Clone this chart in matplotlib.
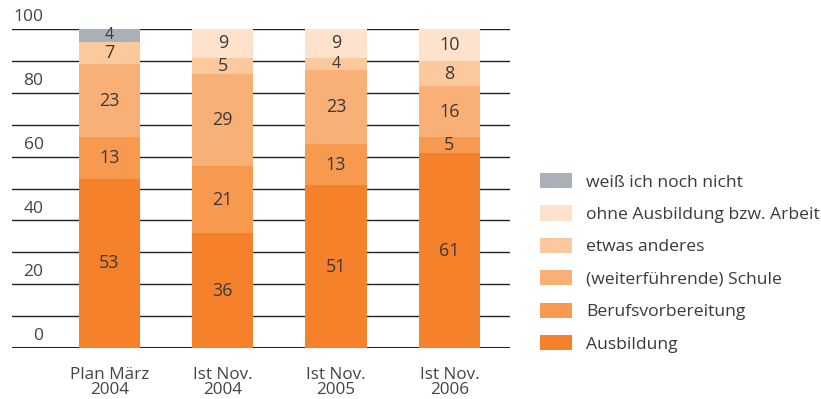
import matplotlib
matplotlib.use("Agg")
import matplotlib.pyplot as plt
from matplotlib.patches import Patch
import numpy as np

plt.rcParams['font.family'] = ['Open Sans', 'DejaVu Sans']

# Daten
kategorien = ["Plan März\n2004", "Ist Nov.\n2004", "Ist Nov.\n2005", "Ist Nov.\n2006"]
serien = ["Ausbildung", "Berufsvorbereitung", "(weiterführende) Schule",
          "etwas anderes", "ohne Ausbildung bzw. Arbeit", "weiß ich noch nicht"]
ausbildung = [53, 36, 51, 61]
berufsvorbereitung = [13, 21, 13, 5]
schule = [23, 29, 23, 16]
etwas_anderes = [7, 5, 4, 8]
ohne = [0, 9, 9, 10]
weiss_nicht = [4, 0, 0, 0]
y_ticks = [0, 20, 40, 60, 80, 100]

werte = [ausbildung, berufsvorbereitung, schule, etwas_anderes, ohne, weiss_nicht]
farben = ["#F5822A", "#F79A50", "#F9B077", "#FCC89E", "#FEE2CB", "#A9B0B7"]

textfarbe = "#3a3a3a"

fig = plt.figure(figsize=(8.21, 3.99), dpi=100)
W, H = 821, 399
ax = fig.add_axes([12 / W, (H - 348) / H, (510 - 12) / W, (348 - 29) / H])

x = np.arange(len(kategorien))
unten = np.zeros(len(kategorien))
for vals, farbe in zip(werte, farben):
    vals = np.array(vals)
    ax.bar(x, vals, width=0.54, bottom=unten, color=farbe, zorder=2)
    for xi, v, b in zip(x, vals, unten):
        if v > 0:
            ax.text(xi, b + v / 2, str(v), ha="center", va="center",
                    fontsize=13 if v > 4 else 11.5, color=textfarbe, zorder=3)
    unten += vals

ax.set_xlim(-0.86, 3.535)
ax.set_ylim(0, 100)

# Gitterlinien
ax.set_yticks(np.arange(0, 101, 10))
ax.yaxis.grid(True, color="#222222", linewidth=1.0, zorder=0)
ax.set_axisbelow(True)
ax.tick_params(axis="y", length=0, labelleft=False)
ax.axhline(0, color="#222222", linewidth=2.2, zorder=1)
ax.axhline(100, color="#222222", linewidth=1.3, zorder=1)

for t in y_ticks:
    ax.text(0.0635, t + 1.2, str(t), transform=ax.get_yaxis_transform(),
            ha="right", va="bottom", fontsize=12.5, color="#444444")

for s in ax.spines.values():
    s.set_visible(False)

ax.set_xticks(x)
ax.set_xticklabels(kategorien, fontsize=12.3, color="#444444", linespacing=0.9)
ax.tick_params(axis="x", length=0, pad=14)

# Legende
handles = [Patch(facecolor=f, edgecolor="none") for f in farben][::-1]
fig.legend(handles, serien[::-1], loc="upper left",
           bbox_to_anchor=(540 / W, 1 - 173 / H), frameon=False, borderpad=0,
           handlelength=1.8, handleheight=0.95, handletextpad=0.85,
           labelspacing=0.85, fontsize=12.6, labelcolor=textfarbe,
           borderaxespad=0)

fig.savefig("out.png", dpi=100)
